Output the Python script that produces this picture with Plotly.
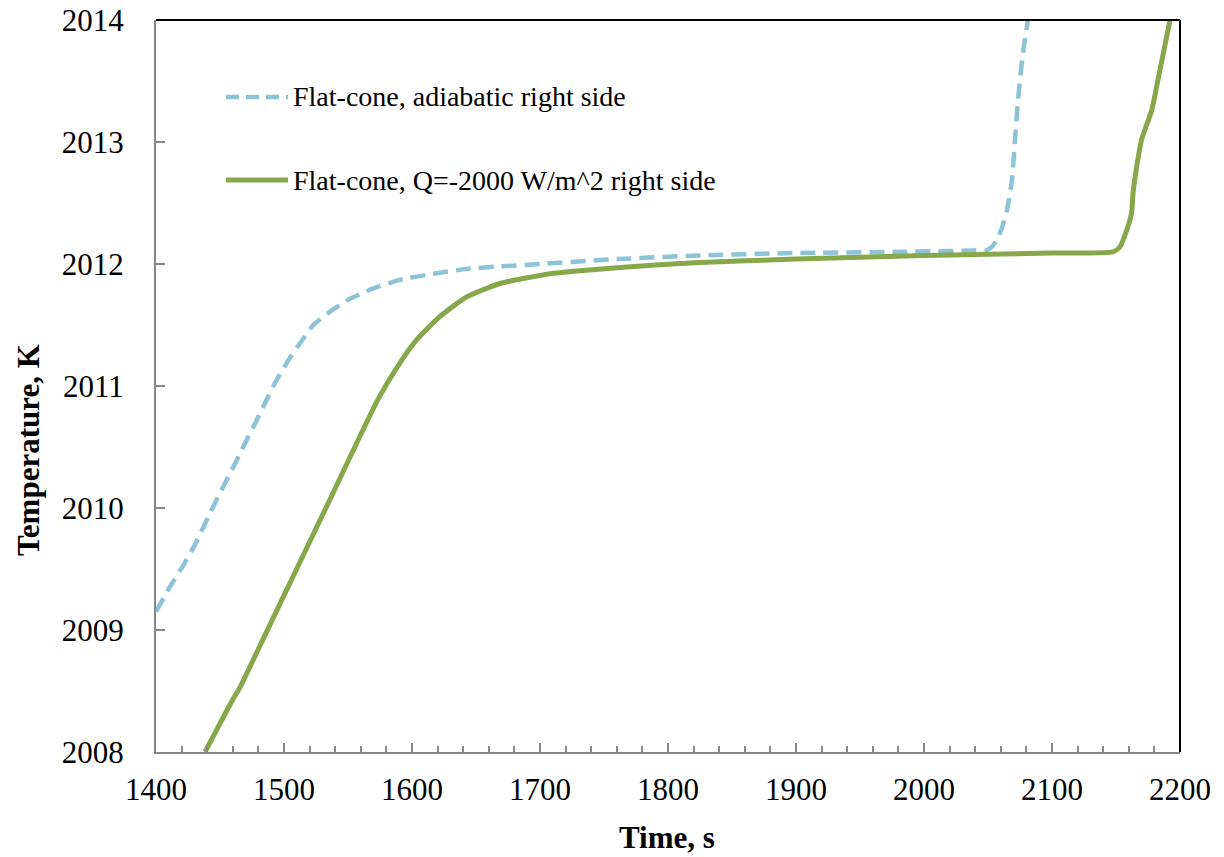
import plotly.graph_objects as go

# Data
adiabatic_time = [1400, 1410.9, 1421.3, 1430.5, 1439.6, 1447.4, 1455.2, 1463.0, 1470.9,
                  1478.7, 1486.5, 1494.3, 1503.4, 1512.5, 1522.9, 1535.9, 1548.9, 1569.8,
                  1590.6, 1616.6, 1642.7, 1668.75, 1700, 1760, 1825, 1900, 1981, 2040,
                  2048, 2053, 2057, 2061, 2064.8, 2068.75, 2071.1, 2073.4, 2077.3, 2081.2]
adiabatic_temp = [2009.15, 2009.355, 2009.53, 2009.70, 2009.90, 2010.07, 2010.23, 2010.39,
                  2010.56, 2010.72, 2010.89, 2011.05, 2011.21, 2011.35, 2011.50, 2011.61,
                  2011.70, 2011.80, 2011.87, 2011.92, 2011.96, 2011.98, 2012.0, 2012.04,
                  2012.07, 2012.09, 2012.10, 2012.11, 2012.11, 2012.14, 2012.2, 2012.3,
                  2012.44, 2012.69, 2013.02, 2013.34, 2013.73, 2014.0]

flux_time = [1438.3, 1460, 1465.6, 1491.6, 1535.9, 1573.4, 1590.6, 1603.7, 1621.9,
             1642.7, 1668.75, 1707.8, 1760, 1820, 1900, 2000, 2100, 2147.7, 2153, 2159.4,
             2162.2, 2163.3, 2166.2, 2170, 2177.9, 2182.8, 2192.2]
flux_temp = [2008.0, 2008.43, 2008.53, 2009.10, 2010.07, 2010.89, 2011.19, 2011.38,
             2011.57, 2011.73, 2011.84, 2011.92, 2011.97, 2012.01, 2012.04, 2012.07, 2012.09,
             2012.10, 2012.14, 2012.31, 2012.42, 2012.58, 2012.80, 2013.02, 2013.26, 2013.51,
             2014.0]

series_names = ["Flat-cone, adiabatic right side",
                "Flat-cone, Q=-2000 W/m^2 right side"]
x_title = "Time, s"
y_title = "Temperature, K"

x_ticks = [1400, 1500, 1600, 1700, 1800, 1900, 2000, 2100, 2200]
y_ticks = [2008, 2009, 2010, 2011, 2012, 2013, 2014]

FONT = "Liberation Serif, Times New Roman, serif"
BLUE = "#8CC3D6"
GREEN = "#86A84A"
L, R, T, B = 156, 44, 20, 105
W, H = 1224, 857
PW, PH = W - L - R, H - T - B


def px_to_paper(px, py):
    return (px - L) / PW, (H - B - py) / PH


fig = go.Figure()
fig.add_trace(go.Scatter(x=adiabatic_time, y=adiabatic_temp, mode="lines",
                         name=series_names[0], showlegend=False,
                         line=dict(color=BLUE, width=4.5, dash="15px,8px", shape="spline",
                                   smoothing=0.5)))
fig.add_trace(go.Scatter(x=flux_time, y=flux_temp, mode="lines",
                         name=series_names[1], showlegend=False,
                         line=dict(color=GREEN, width=5, shape="spline", smoothing=0.5)))

axis_common = dict(showgrid=False, zeroline=False, showline=True, linecolor="#878787",
                   linewidth=2, ticks="inside", tickcolor="#878787", tickwidth=2,
                   automargin=False,
                   tickfont=dict(family=FONT, size=31, color="black"), mirror=False)

fig.update_xaxes(range=[1400, 2200], tickvals=x_ticks, ticklen=9,
                 minor=dict(dtick=20, ticks="inside", ticklen=6, tickcolor="#878787", tickwidth=2),
                 ticklabelstandoff=9, **axis_common)
fig.update_yaxes(range=[2008, 2014], tickvals=y_ticks, ticklen=9,
                 ticklabelstandoff=24, **axis_common)

# black top and right frame
fig.add_shape(type="line", xref="paper", yref="paper", x0=0, x1=1, y0=1, y1=1,
              line=dict(color="black", width=2))
fig.add_shape(type="line", xref="paper", yref="paper", x0=1, x1=1, y0=0, y1=1,
              line=dict(color="black", width=2))

# legend (drawn manually to match sample length)
legend_rows = [(97, BLUE, "13px,7px", 4.5), (180, GREEN, "solid", 5)]
for (py, col, dash, wd), name in zip(legend_rows, series_names):
    x0, y0 = px_to_paper(226, py)
    x1, _ = px_to_paper(288, py)
    fig.add_shape(type="line", xref="paper", yref="paper", x0=x0, x1=x1, y0=y0, y1=y0,
                  line=dict(color=col, width=wd, dash=dash))
    tx, _ = px_to_paper(291, py)
    fig.add_annotation(xref="paper", yref="paper", x=tx, y=y0, xanchor="left", yanchor="middle",
                       text=name, showarrow=False,
                       font=dict(family=FONT, size=28, color="black"))

# axis titles
ax, ay = px_to_paper(667, 837)
fig.add_annotation(xref="paper", yref="paper", x=ax, y=ay, xanchor="center", yanchor="middle",
                   text="<b>" + x_title + "</b>", showarrow=False,
                   font=dict(family=FONT, size=31, color="black"))
bx, by = px_to_paper(28, 450)
fig.add_annotation(xref="paper", yref="paper", x=bx, y=by, xanchor="center", yanchor="middle",
                   text="<b>" + y_title + "</b>", showarrow=False, textangle=-90,
                   font=dict(family=FONT, size=31, color="black"))

fig.update_layout(
    width=W, height=H,
    margin=dict(l=L, r=R, t=T, b=B),
    plot_bgcolor="white", paper_bgcolor="white",
    font=dict(family=FONT, size=30, color="black"),
    showlegend=False,
)

fig.write_html("out.html")
